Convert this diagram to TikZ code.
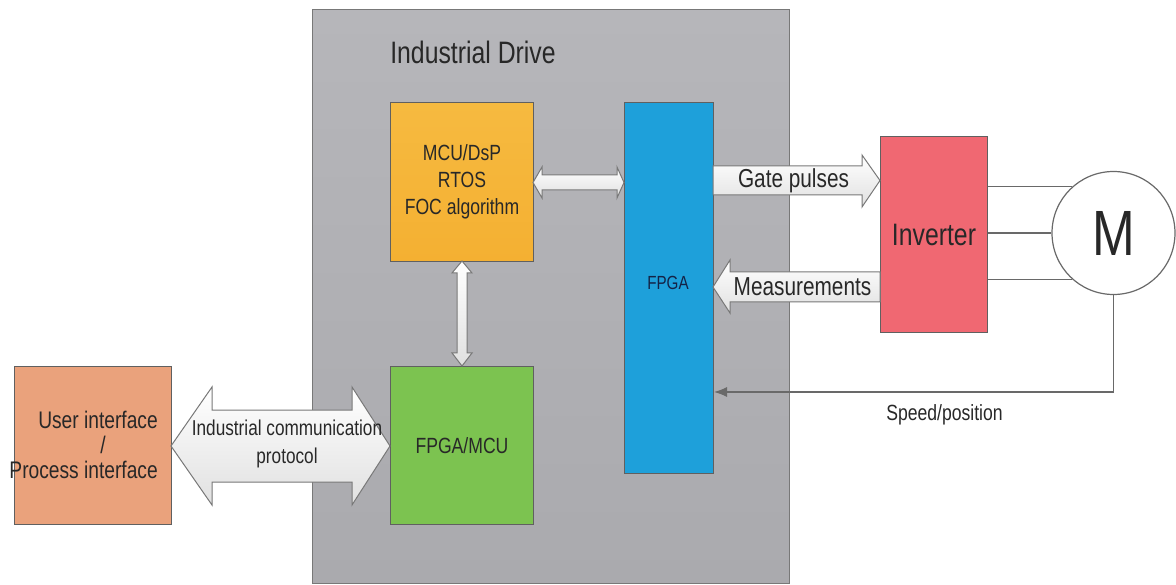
\documentclass[tikz,border=0pt]{standalone}
\usepackage{fontspec}
\setmainfont{Liberation Sans}[FakeStretch=0.8]
\usetikzlibrary{arrows.meta,calc}
\definecolor{drivegray}{RGB}{182,182,186}
\definecolor{drivegrayb}{RGB}{170,170,174}
\definecolor{mcuorange}{RGB}{244,176,50}
\definecolor{mcuoranget}{RGB}{246,186,64}
\definecolor{fpgablue}{RGB}{30,160,218}
\definecolor{fgreen}{RGB}{124,195,80}
\definecolor{uisalmon}{RGB}{234,162,124}
\definecolor{invred}{RGB}{240,104,114}
\definecolor{edgegray}{RGB}{96,96,96}
\definecolor{arrowgray}{RGB}{120,120,120}
\definecolor{wiregray}{RGB}{105,105,105}
\definecolor{txt}{RGB}{40,40,40}
\tikzset{
  blockbox/.style={draw=edgegray, line width=1pt, inner sep=0pt, anchor=north west, text=txt, align=center},
  fatarrow/.style={draw=arrowgray, line width=1pt, top color=white, bottom color=black!12},
  wire/.style={draw=wiregray, line width=1.2pt},
  lbl/.style={text=txt, inner sep=0pt, align=center}
}
\begin{document}
\begin{tikzpicture}[x=1pt,y=-1pt]
\useasboundingbox (0,0) rectangle (1176,585);
% industrial drive enclosure
\node[blockbox, top color=drivegray, bottom color=drivegrayb, draw=arrowgray, minimum width=477pt, minimum height=574pt] (drive) at (312,9) {};
\node[lbl, font=\fontsize{31}{36}\selectfont] (title) at (473,52) {Industrial Drive};
% blocks
\node[blockbox, top color=mcuoranget, bottom color=mcuorange, minimum width=143pt, minimum height=159pt,
      font=\fontsize{22}{27}\selectfont] (mcu) at (390,102) {MCU/DsP\\RTOS\\FOC algorithm};
\node[blockbox, fill=fpgablue, minimum width=89pt, minimum height=371pt] (fpga) at (624,102) {};
\node[lbl, text={rgb,255:red,20;green,35;blue,70}, font=\fontsize{19}{22}\selectfont] (fpgatxt) at (668,283) {FPGA};
\node[blockbox, fill=fgreen, minimum width=143pt, minimum height=158pt,
      font=\fontsize{22}{27}\selectfont] (fmcu) at (390,366) {FPGA/MCU};
\node[blockbox, fill=uisalmon, minimum width=157pt, minimum height=158pt] (ui) at (14,366) {};
\node[lbl, anchor=east, align=right, font=\fontsize{24}{28}\selectfont] (uitxt) at (158,445)
  {User interface\\[-3pt] /\rule{52pt}{0pt}\\[-3pt] Process interface};
\node[blockbox, fill=invred, minimum width=107pt, minimum height=196pt,
      font=\fontsize{31}{36}\selectfont] (inv) at (880,136) {Inverter};
\node[circle, draw=wiregray, line width=1.2pt, fill=white, minimum size=123pt, inner sep=0pt,
      text=txt, font=\fontsize{64}{70}\selectfont] (motor) at (1113.5,233) {M};
% inverter to motor phases
\draw[wire] (motor.132 -| inv.east) -- (motor.132);
\draw[wire] (motor.west -| inv.east) -- (motor.west);
\draw[wire] (motor.228 -| inv.east) -- (motor.228);
% speed / position feedback
\coordinate (fbc) at (1113.5,392);
\draw[wire, -{Latex[length=13pt,width=10pt]}] (motor.south) -- (fbc) -- (fbc -| fpga.east);
\node[lbl, font=\fontsize{22}{26}\selectfont] (speed) at (944.5,415) {Speed/position};
% fat arrows
\path[fatarrow] (713,166) -- (862,166) -- (862,155) -- (880,180.5) -- (862,207) -- (862,195) -- (713,195) -- cycle;
\node[lbl, font=\fontsize{26}{30}\selectfont] (gate) at (793.5,181) {Gate pulses};
\path[fatarrow] (713,287) -- (730,260) -- (730,272) -- (880,272) -- (880,302) -- (730,302) -- (730,313) -- cycle;
\node[lbl, font=\fontsize{26}{30}\selectfont] (meas) at (802.5,287) {Measurements};
\path[fatarrow] (533,182.5) -- (542,167) -- (542,175) -- (617,175) -- (617,167) -- (624,182.5) -- (617,198) -- (617,190) -- (542,190) -- (542,198) -- cycle;
\path[fatarrow] (462,261) -- (472,273) -- (467,273) -- (467,353) -- (472,353) -- (462,366) -- (452,353) -- (457,353) -- (457,273) -- (452,273) -- cycle;
\path[fatarrow] (171,446) -- (212,387) -- (212,410) -- (352,410) -- (352,387) -- (390,446) -- (352,505) -- (352,482) -- (212,482) -- (212,505) -- cycle;
\node[lbl, font=\fontsize{21.5}{28}\selectfont] (comm) at (287,444) {Industrial communication\\protocol};
\end{tikzpicture}
\end{document}
